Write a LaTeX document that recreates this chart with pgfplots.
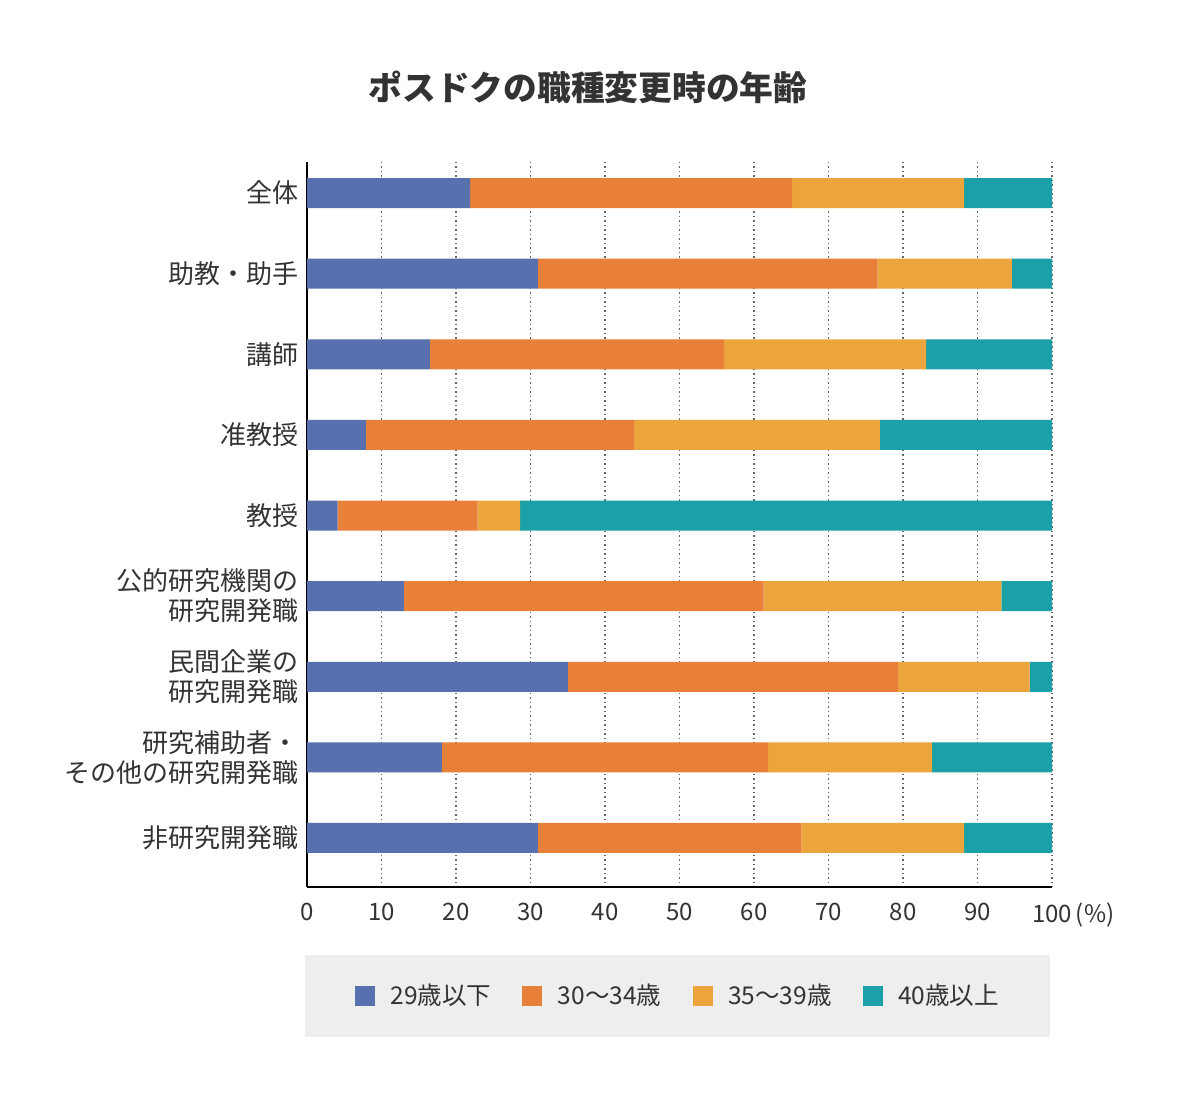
\documentclass[border=0pt]{standalone}
\usepackage{pgfplots}
\pgfplotsset{compat=1.18}
\usepackage{fontspec}
\setmainfont{Noto Sans CJK JP}

\definecolor{cYoung}{HTML}{5870AE}
\definecolor{cEarly}{HTML}{E8803A}
\definecolor{cLate}{HTML}{ECA53C}
\definecolor{cOld}{HTML}{1AA0A6}
\definecolor{txt}{HTML}{333333}
\definecolor{gridc}{HTML}{666666}
\definecolor{legendbg}{HTML}{EEEEEE}

% shares (%) by career destination, top to bottom
\pgfplotstableread{
idx  a    b    c    d
0    21.9 43.2 23.1 11.8
1    31.0 45.6 18.0 5.4
2    16.5 39.5 27.1 16.9
3    7.9  36.0 33.0 23.1
4    4.1  18.8 5.7  71.4
5    13.0 48.3 31.9 6.8
6    35.0 44.3 17.7 3.0
7    18.1 43.8 22.0 16.1
8    31.0 35.4 21.8 11.8
}\agedata

\begin{document}
\begin{tikzpicture}[x=0.4pt,y=0.4pt]
\useasboundingbox (0,0) rectangle (1200,1108);
\fill[white] (0,0) rectangle (1200,1108);
% legend panel
\fill[legendbg] (305,71) rectangle (1050,153);
\coordinate (plotorigin) at (307,221);
\node[font=\fontsize{13.5}{16}\selectfont\bfseries, text=txt] at (588,1021) {ポスドクの職種変更時の年齢};
\begin{axis}[
  at={(plotorigin)}, anchor=south west,
  width=298pt, height=290pt, scale only axis,
  xbar stacked, bar width=12pt,
  xmin=0, xmax=100, ymin=-0.385, ymax=8.608, y dir=reverse,
  axis x line*=bottom, axis y line*=left,
  axis line style={line width=1pt, black, -},
  major tick length=0pt,
  xtick={0,10,...,100},
  xticklabels={0,10,20,30,40,50,60,70,80,90,{100\rlap{\,(\%)}}},
  xticklabel style={font=\fontsize{9.6}{11}\selectfont, text=txt, yshift=-3pt},
  ytick={0,...,8},
  yticklabels={全体, 助教・助手, 講師, 准教授, 教授,
    {公的研究機関の\\研究開発職}, {民間企業の\\研究開発職},
    {研究補助者・\\その他の研究開発職}, 非研究開発職},
  yticklabel style={align=right, font=\fontsize{10.4}{12}\selectfont, text=txt},
  xmajorgrids,
  grid style={gridc, line width=0.7pt, dash pattern=on 0.6pt off 1.2pt},
  legend columns=4,
  legend style={at={(0.5,-0.150)}, anchor=center, draw=none, fill=none,
    font=\fontsize{9.8}{11}\selectfont, text=txt,
    /tikz/every odd column/.append style={column sep=4.2pt},
    /tikz/every even column/.append style={column sep=10.5pt}},
  legend image code/.code={\fill[#1] (0pt,-4pt) rectangle (8pt,4pt);},
]
\addplot[fill=cYoung, draw=none] table[x=a, y=idx] {\agedata};
\addplot[fill=cEarly, draw=none] table[x=b, y=idx] {\agedata};
\addplot[fill=cLate, draw=none] table[x=c, y=idx] {\agedata};
\addplot[fill=cOld, draw=none] table[x=d, y=idx] {\agedata};
\legend{29歳以下, 30〜34歳, 35〜39歳, 40歳以上}
\end{axis}
\end{tikzpicture}
\end{document}
